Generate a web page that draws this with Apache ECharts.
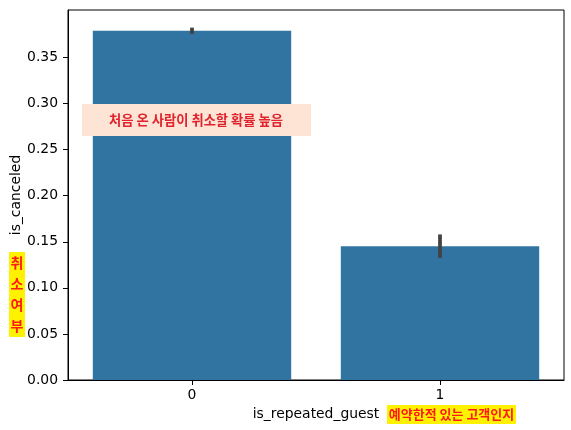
<!DOCTYPE html>
<html>
<head>
<meta charset="utf-8">
<script src="https://cdn.jsdelivr.net/npm/echarts@6/dist/echarts.min.js"></script>
<style>
html,body{margin:0;padding:0;background:#fff;}
#c{width:571px;height:430px;}
</style>
</head>
<body>
<div id="c"></div>
<script>
const categories = ['0', '1'];
const cancelRate = [0.379, 0.1453];
const ciLow = [0.3755, 0.1325];
const ciHigh = [0.3825, 0.158];
const yTicks = [0, 0.05, 0.10, 0.15, 0.20, 0.25, 0.30, 0.35];
const yMax = 0.4016;

const FONT = 'DejaVu Sans';
const KFONT = '"Noto Sans CJK KR"';

const chart = echarts.init(document.getElementById('c'), null, {renderer: 'canvas'});
chart.setOption({
  animation: false,
  backgroundColor: '#fff',
  grid: {left: 68, top: 10, right: 7, bottom: 50, containLabel: false, outerBoundsMode: 'none',
    show: true, borderColor: '#000', borderWidth: 1, backgroundColor: 'transparent'},
  xAxis: {
    type: 'category',
    data: categories,
    boundaryGap: true,
    name: 'is_repeated_guest',
    nameLocation: 'middle',
    nameGap: 27,
    nameMoveOverlap: false,
    nameTextStyle: {fontFamily: FONT, fontSize: 13.9, color: '#000'},
    axisLine: {show: true, lineStyle: {color: '#000', width: 1}},
    axisTick: {show: true, alignWithLabel: true, length: 5, lineStyle: {color: '#000', width: 1}},
    axisLabel: {fontFamily: FONT, fontSize: 13.9, color: '#000', margin: 8},
    splitLine: {show: false}
  },
  yAxis: {
    type: 'value',
    min: 0,
    max: yMax,
    name: 'is_canceled',
    nameLocation: 'middle',
    nameGap: 45,
    nameMoveOverlap: false,
    nameRotate: 90,
    nameTextStyle: {fontFamily: FONT, fontSize: 13.9, color: '#000'},
    axisLine: {show: true, lineStyle: {color: '#000', width: 1}},
    axisTick: {show: true, length: 5, customValues: yTicks, lineStyle: {color: '#000', width: 1}},
    axisLabel: {fontFamily: FONT, fontSize: 13.9, color: '#000', margin: 10, customValues: yTicks,
      formatter: v => v.toFixed(2)},
    splitLine: {show: false}
  },
  series: [
    {
      type: 'bar',
      data: cancelRate,
      barWidth: '80%',
      itemStyle: {color: '#3274a1', borderWidth: 0},
      z: 2
    },
    {
      type: 'custom',
      data: categories.map((c, i) => [i, ciLow[i], ciHigh[i]]),
      renderItem: function (params, api) {
        const lo = api.coord([api.value(0), api.value(1)]);
        const hi = api.coord([api.value(0), api.value(2)]);
        return {
          type: 'line',
          shape: {x1: lo[0], y1: lo[1], x2: hi[0], y2: hi[1]},
          style: {stroke: '#424242', lineWidth: 3.75}
        };
      },
      z: 5
    }
  ],
  graphic: [
    {
      type: 'rect',
      shape: {x: 82, y: 104, width: 229, height: 32},
      style: {fill: '#fee4d4'},
      z: 100
    },
    {
      type: 'text',
      x: 196, y: 120,
      style: {text: '처음 온 사람이 취소할 확률 높음', fontFamily: KFONT, fontWeight: 'bold', fontSize: 13.3,
        fill: '#e0232f', align: 'center', verticalAlign: 'middle'},
      z: 101
    },
    {
      type: 'rect',
      shape: {x: 9, y: 252, width: 16, height: 85},
      style: {fill: '#fff200'},
      z: 100
    },
    {
      type: 'text',
      x: 17, y: 294.5,
      style: {text: '취\n소\n여\n부', fontFamily: KFONT, fontWeight: 'bold', fontSize: 14, lineHeight: 21,
        fill: '#ff1a1a', align: 'center', verticalAlign: 'middle'},
      z: 101
    },
    {
      type: 'rect',
      shape: {x: 387, y: 405, width: 129, height: 19},
      style: {fill: '#fff200'},
      z: 100
    },
    {
      type: 'text',
      x: 451.5, y: 414.5,
      style: {text: '예약한적 있는 고객인지', fontFamily: KFONT, fontWeight: 'bold', fontSize: 13,
        fill: '#ff1a1a', align: 'center', verticalAlign: 'middle'},
      z: 101
    }
  ]
});
</script>
</body>
</html>
